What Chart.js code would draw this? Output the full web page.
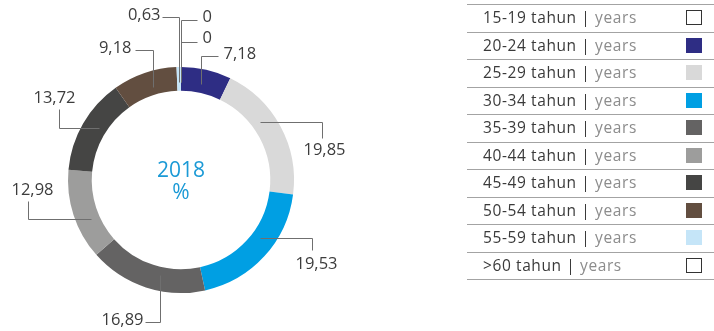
<!DOCTYPE html>
<html>
<head>
<meta charset="utf-8">
<script src="https://cdn.jsdelivr.net/npm/chart.js@4.4.0/dist/chart.umd.min.js"></script>
<style>
  html, body { margin: 0; padding: 0; background: #fff; }
  #wrap { position: relative; width: 714px; height: 331px; overflow: hidden; }
  #legend {
    position: absolute; left: 467px; top: 4px; width: 247px;
    border-bottom: 1.5px solid #a3a3a3;
    font-family: 'Open Sans', sans-serif; font-size: 15.5px; letter-spacing: 0.6px;
  }
  .row {
    position: relative; box-sizing: border-box; height: 27.5px;
    border-top: 1.5px solid #a3a3a3;
    padding-left: 16px; line-height: 24px; color: #3a3a3a; white-space: nowrap;
  }
  .row .unit { color: #8c8c8c; }
  .row .swatch {
    position: absolute; right: 12px; top: 5px; width: 16px; height: 15px; box-sizing: border-box;
  }
</style>
</head>
<body>
<div id="wrap">
  <canvas id="ageChart"></canvas>
  <div id="legend"></div>
</div>
<script>
// ── Data ──
const categories = ['15-19 tahun', '20-24 tahun', '25-29 tahun', '30-34 tahun', '35-39 tahun',
                    '40-44 tahun', '45-49 tahun', '50-54 tahun', '55-59 tahun', '>60 tahun'];
const unitLabel = 'years';
const shares = [0, 7.18, 19.85, 19.53, 16.89, 12.98, 13.72, 9.18, 0.63, 0];
const centerTitle = ['2018', '%'];

// ── Styles ──
const sliceColors = ['#ffffff', '#2e2d84', '#d9d9d9', '#009fe3', '#646363',
                     '#9d9d9c', '#454544', '#624e40', '#c5e5f8', '#ffffff'];

// leader lines: where on the arc they start (t), the elbow legs, and text offset
const leaders = [
    { t: 0.5,  legs: [[0, -62], [16, 0]],  align: 'left',   dx: 5,  dy: 1 },
    { t: 0.45, legs: [[0, -28], [17, 0]],  align: 'left',   dx: 5,  dy: 2 },
    { t: 0.39, legs: [[62, 0], [0, 16]],   align: 'center', dx: 2,  dy: 16 },
    { t: 0.41, legs: [[52, 0], [0, 12]],   align: 'center', dx: 4,  dy: 18 },
    { t: 0.41, legs: [[0, 47], [-15, 0]],  align: 'right',  dx: -2, dy: 2 },
    { t: 0.39, legs: [[-63, 0], [0, -18]], align: 'center', dx: 4,  dy: -7 },
    { t: 0.55, legs: [[-40, 0], [0, -19]], align: 'center', dx: -5, dy: -7 },
    { t: 0.56, legs: [[0, -37], [-18, 0]], align: 'right',  dx: -4, dy: 2 },
    { t: 0.5,  legs: [[0, -65], [-17, 0]], align: 'right',  dx: -2, dy: 2 },
    { t: 0.5,  legs: [[0, -40], [16, 0]],  align: 'left',   dx: 5,  dy: 0 },
];

const fmt = v => v === 0 ? '0' : v.toFixed(2).replace('.', ',');

// ── Plugins ──
const leaderLabels = {
    id: 'leaderLabels',
    afterDatasetsDraw(chart) {
        const ctx = chart.ctx;
        const values = chart.data.datasets[0].data;
        ctx.save();
        ctx.strokeStyle = '#6f6f6f';
        ctx.lineWidth = 1;
        ctx.fillStyle = '#3c3c3c';
        ctx.font = '16.5px "Open Sans"';
        ctx.textBaseline = 'alphabetic';
        chart.getDatasetMeta(0).data.forEach((arc, i) => {
            const L = leaders[i];
            const p = arc.getProps(['x', 'y', 'startAngle', 'endAngle', 'innerRadius', 'outerRadius'], true);
            const a = p.startAngle + (p.endAngle - p.startAngle) * L.t;
            const r = p.innerRadius + (p.outerRadius - p.innerRadius) * 0.35;
            let x = Math.round(p.x + r * Math.cos(a)) + 0.5;
            let y = Math.round(p.y + r * Math.sin(a)) + 0.5;
            ctx.beginPath();
            ctx.moveTo(x, y);
            L.legs.forEach(([dx, dy]) => { x += dx; y += dy; ctx.lineTo(x, y); });
            ctx.stroke();
            ctx.textAlign = L.align;
            ctx.fillText(fmt(values[i]), x + L.dx, y + L.dy);
        });
        ctx.restore();
    }
};

const centerText = {
    id: 'centerText',
    afterDraw(chart) {
        const { x, y } = chart.getDatasetMeta(0).data[0];
        const ctx = chart.ctx;
        ctx.save();
        ctx.fillStyle = '#1b9ad6';
        ctx.font = '21px "Open Sans"';
        ctx.textAlign = 'center';
        ctx.textBaseline = 'alphabetic';
        ctx.fillText(centerTitle[0], x, y - 3);
        ctx.fillText(centerTitle[1], x, y + 19);
        ctx.restore();
    }
};

const htmlLegend = {
    id: 'htmlLegend',
    afterUpdate(chart) {
        const box = document.getElementById('legend');
        box.innerHTML = '';
        const items = chart.options.plugins.legend.labels.generateLabels(chart);
        items.forEach(item => {
            const [main, unit] = item.text.split(' | ');
            const row = document.createElement('div');
            row.className = 'row';
            row.innerHTML = `${main} | <span class="unit">${unit}</span>`;
            const sw = document.createElement('span');
            sw.className = 'swatch';
            sw.style.background = item.fillStyle;
            if (item.strokeStyle !== item.fillStyle) sw.style.border = `1.5px solid ${item.strokeStyle}`;
            row.appendChild(sw);
            box.appendChild(row);
        });
    }
};

// ── Chart ──
new Chart(document.getElementById('ageChart'), {
    type: 'doughnut',
    data: {
        labels: categories.map(c => `${c} | ${unitLabel}`),
        datasets: [{
            data: shares,
            backgroundColor: sliceColors,
            borderColor: sliceColors.map(c => c === '#ffffff' ? '#333333' : c),
            borderWidth: 0
        }]
    },
    options: {
        responsive: true,
        maintainAspectRatio: false,
        animation: false,
        cutout: '79%',
        layout: { padding: { left: 68, top: 67, right: 420, bottom: 38 } },
        plugins: {
            legend: { display: false },
            tooltip: { enabled: false }
        }
    },
    plugins: [leaderLabels, centerText, htmlLegend]
});
</script>
</body>
</html>
